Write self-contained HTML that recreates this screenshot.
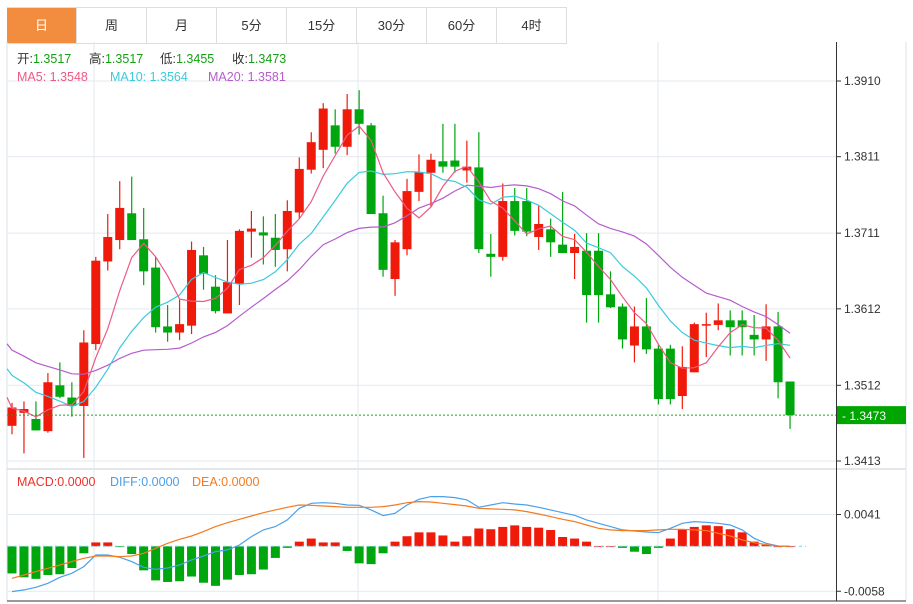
<!DOCTYPE html>
<html><head><meta charset="utf-8">
<style>
html,body{margin:0;padding:0;background:#fff;width:913px;height:604px;overflow:hidden;font-family:"Liberation Sans","Noto Sans CJK SC",sans-serif;}
.tabs{position:absolute;left:7px;top:7px;height:35px;display:flex;border-top:1px solid #ddd;border-bottom:1px solid #ddd;}
.tab{width:69px;border-right:1px solid #ddd;text-align:center;line-height:35px;font-size:13px;color:#333;}
.tab.on{background:#f28c3e;color:#fff;}
svg{position:absolute;left:0;top:0;}
</style></head><body>
<div class="tabs">
<div class="tab on">日</div>
<div class="tab">周</div>
<div class="tab">月</div>
<div class="tab">5分</div>
<div class="tab">15分</div>
<div class="tab">30分</div>
<div class="tab">60分</div>
<div class="tab">4时</div>
</div>
<svg id="chart" width="913" height="604"></svg>
<script>
const opens=[1.3459,1.3476,1.3468,1.3452,1.3512,1.3496,1.3485,1.3566,1.3674,1.3702,1.3737,1.3703,1.3666,1.3589,1.3581,1.3590,1.3682,1.3641,1.3606,1.3645,1.3713,1.3712,1.3705,1.3690,1.3738,1.3794,1.3820,1.3852,1.3824,1.3873,1.3852,1.3737,1.3651,1.3690,1.3765,1.3790,1.3805,1.3806,1.3793,1.3797,1.3684,1.3680,1.3753,1.3753,1.3706,1.3716,1.3696,1.3685,1.3688,1.3688,1.3631,1.3615,1.3564,1.3589,1.3560,1.3560,1.3498,1.3529,1.3590,1.3591,1.3597,1.3597,1.3578,1.3572,1.3589,1.3517];
const highs=[1.3489,1.3491,1.3491,1.3528,1.3542,1.3516,1.3584,1.3680,1.3736,1.3779,1.3785,1.3744,1.3680,1.3617,1.3624,1.3700,1.3693,1.3656,1.3702,1.3716,1.3740,1.3733,1.3736,1.3754,1.3810,1.3843,1.3881,1.3873,1.3893,1.3898,1.3855,1.3760,1.3702,1.3782,1.3814,1.3815,1.3854,1.3854,1.3832,1.3843,1.3710,1.3776,1.3770,1.3770,1.3747,1.3730,1.3765,1.3710,1.3711,1.3711,1.3661,1.3619,1.3615,1.3626,1.3565,1.3565,1.3563,1.3594,1.3607,1.3619,1.3610,1.3610,1.3604,1.3618,1.3608,1.3517];
const lows=[1.3448,1.3423,1.3453,1.3450,1.3495,1.3471,1.3417,1.3558,1.3662,1.3690,1.3702,1.3643,1.3581,1.3569,1.3571,1.3579,1.3637,1.3606,1.3606,1.3617,1.3679,1.3670,1.3667,1.3661,1.3730,1.3789,1.3796,1.3815,1.3813,1.3840,1.3736,1.3654,1.3629,1.3682,1.3753,1.3746,1.3790,1.3790,1.3777,1.3685,1.3654,1.3675,1.3708,1.3707,1.3689,1.3680,1.3685,1.3651,1.3594,1.3594,1.3613,1.3560,1.3542,1.3553,1.3487,1.3487,1.3481,1.3529,1.3549,1.3584,1.3551,1.3551,1.3551,1.3544,1.3495,1.3455];
const closes=[1.3483,1.3481,1.3453,1.3516,1.3497,1.3485,1.3568,1.3675,1.3706,1.3744,1.3702,1.3661,1.3588,1.3581,1.3592,1.3689,1.3658,1.3609,1.3647,1.3714,1.3717,1.3708,1.3689,1.3740,1.3795,1.3830,1.3874,1.3824,1.3873,1.3854,1.3736,1.3663,1.3699,1.3766,1.3791,1.3807,1.3798,1.3798,1.3798,1.3690,1.3680,1.3753,1.3714,1.3713,1.3723,1.3699,1.3685,1.3693,1.3630,1.3630,1.3614,1.3572,1.3589,1.3559,1.3494,1.3494,1.3536,1.3592,1.3592,1.3597,1.3588,1.3588,1.3572,1.3589,1.3516,1.3473];
const priorCloses=[1.3650,1.3640,1.3625,1.3610,1.3590,1.3585,1.3580,1.3575,1.3570,1.3565,1.3570,1.3580,1.3575,1.3570,1.3560,1.3555,1.3500,1.3490,1.3470,1.3467];
const priceTicks=[1.3910,1.3811,1.3711,1.3612,1.3512,1.3413];
const diffVals=[-0.00585,-0.00563,-0.00529,-0.00477,-0.00400,-0.00348,-0.00262,-0.00112,-0.00112,-0.00142,-0.00198,-0.00271,-0.00297,-0.00280,-0.00241,-0.00176,-0.00125,-0.00069,-0.00047,0.00017,0.00125,0.00211,0.00254,0.00340,0.00490,0.00555,0.00563,0.00555,0.00533,0.00529,0.00469,0.00396,0.00426,0.00533,0.00606,0.00641,0.00641,0.00628,0.00598,0.00503,0.00533,0.00563,0.00546,0.00533,0.00503,0.00469,0.00434,0.00400,0.00340,0.00297,0.00254,0.00211,0.00198,0.00185,0.00176,0.00232,0.00297,0.00318,0.00310,0.00297,0.00275,0.00211,0.00103,0.00039,0.00004,0];
const deaVals=[-0.00413,-0.00370,-0.00327,-0.00284,-0.00241,-0.00198,-0.00155,-0.00125,-0.00125,-0.00133,-0.00125,-0.00090,-0.00026,0.00039,0.00090,0.00133,0.00189,0.00254,0.00305,0.00348,0.00391,0.00434,0.00469,0.00503,0.00533,0.00529,0.00520,0.00512,0.00503,0.00503,0.00503,0.00512,0.00533,0.00563,0.00576,0.00572,0.00555,0.00538,0.00520,0.00490,0.00482,0.00477,0.00469,0.00447,0.00417,0.00383,0.00348,0.00318,0.00275,0.00232,0.00211,0.00202,0.00202,0.00202,0.00211,0.00219,0.00219,0.00211,0.00202,0.00168,0.00133,0.00082,0.00047,0.00022,0.00004,0];
const histVals=[-0.0035,-0.0040,-0.0042,-0.0037,-0.0036,-0.0028,-0.0009,0.0005,0.0005,-0.0001,-0.0010,-0.0031,-0.0044,-0.0046,-0.0045,-0.0039,-0.0047,-0.0051,-0.0043,-0.0037,-0.0036,-0.0030,-0.0015,-0.0002,0.0006,0.0010,0.0005,0.0005,-0.0006,-0.0022,-0.0023,-0.0009,0.0006,0.0013,0.0018,0.0018,0.0014,0.0006,0.0013,0.0023,0.0022,0.0025,0.0027,0.0025,0.0024,0.0021,0.0012,0.0010,0.0006,0,0,-0.0002,-0.0007,-0.0010,-0.0002,0.0010,0.0022,0.0025,0.0027,0.0026,0.0022,0.0018,0.0006,0.0002,0,0];
const macdTicks=[0.0041,-0.0058];

const svg=document.getElementById('chart');
const NS='http://www.w3.org/2000/svg';
function mk(tag,attrs,parent){const e=document.createElementNS(NS,tag);for(const k in attrs)e.setAttribute(k,attrs[k]);(parent||svg).appendChild(e);return e;}
const X=i=>12+i*11.97;
const Y=p=>81+(1.3910-p)*7646;
const MY=v=>546.3-v/0.000129;
const RED='#f01a0a',GREEN='#00a60e';

const grid=mk('g',{});


mk('line',{x1:7,y1:42,x2:7,y2:601,stroke:'#dde3ea'},grid);
mk('line',{x1:7,y1:469,x2:906,y2:469,stroke:'#c8ced6'},grid);
mk('line',{x1:906,y1:42,x2:906,y2:601,stroke:'#dde3ea'},grid);
[94,358,658].forEach(x=>{mk('line',{x1:x,y1:42,x2:x,y2:601,stroke:'#e3e9ef'},grid);});
priceTicks.forEach(p=>{mk('line',{x1:7,y1:Y(p),x2:836,y2:Y(p),stroke:'#e3e9ef'},grid);});
macdTicks.forEach(v=>{mk('line',{x1:7,y1:MY(v),x2:836,y2:MY(v),stroke:'#e3e9ef'},grid);});
mk('line',{x1:7,y1:601,x2:906,y2:601,stroke:'#333'},grid);

const ax=mk('g',{});


mk('line',{x1:836.5,y1:42,x2:836.5,y2:601,stroke:'#333'},ax);
priceTicks.forEach(p=>{
  mk('line',{x1:836,y1:Y(p),x2:841,y2:Y(p),stroke:'#333'},ax);
  const t=mk('text',{x:844,y:Y(p)+4,'font-size':12,fill:'#333'},ax);t.textContent=p.toFixed(4);
  
  
});
macdTicks.forEach(v=>{
  mk('line',{x1:836,y1:MY(v),x2:841,y2:MY(v),stroke:'#333'},ax);
  const t=mk('text',{x:844,y:MY(v)+4,'font-size':12,fill:'#333'},ax);t.textContent=v.toFixed(4);
  
  
});

const cg=mk('g',{});


for(let i=0;i<opens.length;i++){
  const up=closes[i]>=opens[i];const c=up?RED:GREEN;const x=X(i);
  const g=mk('g',{},cg);
  
  
  mk('line',{x1:x,y1:Y(highs[i]),x2:x,y2:Y(lows[i]),stroke:c,'stroke-width':1.2},g);
  const top=Y(Math.max(opens[i],closes[i])),bot=Y(Math.min(opens[i],closes[i]));
  mk('rect',{x:x-4.5,y:top,width:9,height:Math.max(1.5,bot-top),fill:c},g);
}
const all=priorCloses.concat(closes);const off=priorCloses.length;
function ma(n,col,name){
  let pts=[];
  for(let i=-1;i<closes.length;i++){
    if(off+i-n+1<0)continue;
    let s=0;for(let k=0;k<n;k++)s+=all[off+i-k];
    pts.push((i<0?7:X(i)).toFixed(1)+','+Y(s/n).toFixed(1));
  }
  const pl=mk('polyline',{points:pts.join(' '),fill:'none',stroke:col,'stroke-width':1.2});
  
  
}
ma(20,'#b65ccc','ma20-line');ma(10,'#3ccadc','ma10-line');ma(5,'#ec5a86','ma5-line');

const lp=closes[closes.length-1];
const dl=mk('line',{x1:7,y1:Y(lp),x2:836,y2:Y(lp),stroke:'#19a019','stroke-dasharray':'2,2'});


const lb=mk('rect',{x:837,y:Y(lp)-9,width:69,height:18,fill:'#00a600'});


const lt=mk('text',{x:842,y:Y(lp)+5,'font-size':12,fill:'#fff'});lt.textContent='- '+lp.toFixed(4);



const mg=mk('g',{});


const z=MY(0);
histVals.forEach((v,i)=>{
  const y=MY(v);const r=mk('rect',{x:X(i)-4.5,y:Math.min(y,z),width:9,height:Math.max(0.8,Math.abs(y-z)),fill:v>=0?RED:GREEN},mg);
  
  
});
const zl=mk('line',{x1:7,y1:z,x2:806,y2:z,stroke:'#7cd3ea','stroke-dasharray':'3,3'});


function mline(vals,col,name){
  const pl=mk('polyline',{points:vals.map((v,i)=>X(i).toFixed(1)+','+MY(v).toFixed(1)).join(' '),fill:'none',stroke:col,'stroke-width':1.2});
  
  
}
mline(diffVals,'#4aa0ea','diff-line');mline(deaVals,'#f47a20','dea-line');

function legend(y,parts,name){
  const t=mk('text',{x:17,y:y,'font-size':12.5});
  
  
  parts.forEach(([s,c,x])=>{const a={fill:c};if(x!==undefined)a.x=x;const sp=mk('tspan',a,t);sp.textContent=s;});
}
legend(63,[['开:','#333',17],['1.3517','#14a014'],['高:','#333',89],['1.3517','#14a014'],['低:','#333',160],['1.3455','#14a014'],['收:','#333',232],['1.3473','#14a014']],'ohlc-legend');
legend(81,[['MA5: 1.3548','#ec5a86',17],['MA10: 1.3564','#3ccadc',110],['MA20: 1.3581','#b65ccc',208]],'ma-legend');
legend(486,[['MACD:0.0000','#f0302a',17],['DIFF:0.0000','#4aa0ea',110],['DEA:0.0000','#f47a20',192]],'macd-legend');
</script>
</body></html>
